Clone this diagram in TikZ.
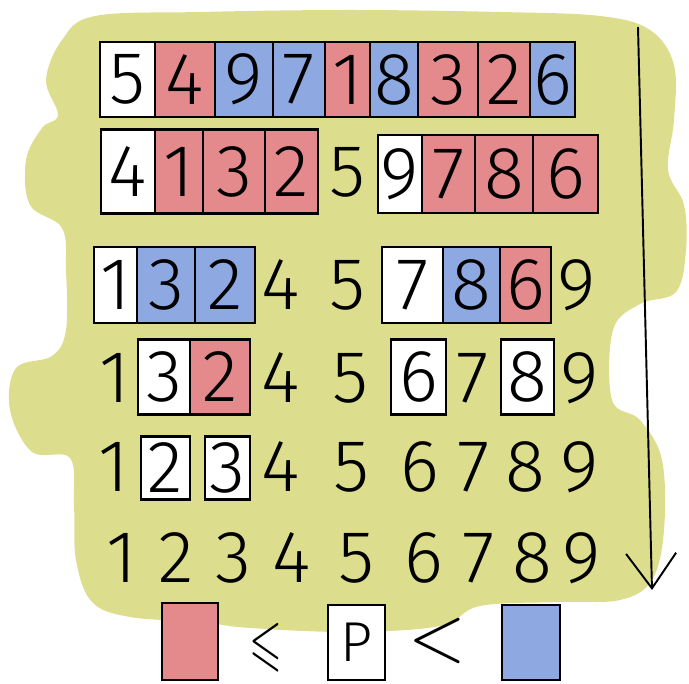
\RequirePackage{fix-cm}
\documentclass[tikz,border=0pt]{standalone}
\usepackage{amsmath, amssymb}
\usepackage{fontspec}
\setsansfont{Fira Sans Light}
\usepackage{tikz}
\usetikzlibrary{arrows.meta,positioning}

\definecolor{blobc}{RGB}{221,222,141}
\definecolor{lowc}{RGB}{229,138,140}
\definecolor{highc}{RGB}{142,169,226}

\begin{document}
\begin{tikzpicture}[
    x=0.2mm, y=-0.2mm,
    num/.style={font=\sffamily\fontsize{42}{42}\selectfont, inner sep=0pt},
    cell/.style={num, draw, line width=1.3pt, outer sep=0pt, minimum height=15mm},
    lo/.style={cell, fill=lowc},
    hi/.style={cell, fill=highc},
    piv/.style={cell, fill=white},
    line/.style={draw, line width=1.1pt, -{Straight Barb[length=7mm, width=10mm]}}
]
    \useasboundingbox (0,0) rectangle (689,684);

    % background blob
    \fill[blobc] plot[smooth cycle, tension=0.6] coordinates {
        (62,40) (95,16) (200,12) (350,10) (500,12) (600,16) (650,30) (674,65)
        (674,120) (668,170) (684,205) (686,250) (676,292) (640,304) (613,330)
        (612,400) (640,420) (662,460) (664,530) (652,580) (620,600) (560,602)
        (480,606) (440,626) (350,632) (250,628) (200,622) (130,617) (92,602)
        (76,560) (74,505) (70,458) (32,452) (10,410) (16,368) (52,356) (66,330)
        (66,270) (62,228) (30,205) (26,160) (42,128) (58,115) (46,80)};

    % unsorted row
    \node[piv, minimum width=11mm] (a5) at (127.5,79.5) {5};
    \node[lo, minimum width=12mm, right=0pt of a5] (a4) {4};
    \node[hi, minimum width=11.6mm, right=0pt of a4] (a9) {9};
    \node[hi, minimum width=10.4mm, right=0pt of a9] (a7) {7};
    \node[lo, minimum width=9mm, right=0pt of a7] (a1) {1};
    \node[hi, minimum width=9.6mm, right=0pt of a1] (a8) {8};
    \node[lo, minimum width=12mm, right=0pt of a8] (a3) {3};
    \node[lo, minimum width=10.4mm, right=0pt of a3] (a2) {2};
    \node[hi, minimum width=9mm, right=0pt of a2] (a6) {6};

    % after first partition
    \node[piv, minimum width=10.8mm, minimum height=16.8mm] (b4) at (128,171.5) {4};
    \node[lo, minimum width=9.6mm, minimum height=16.8mm, right=0pt of b4] (b1) {1};
    \node[lo, minimum width=12.4mm, minimum height=16.8mm, right=0pt of b1] (b3) {3};
    \node[lo, minimum width=10.6mm, minimum height=16.8mm, right=0pt of b3] (b2) {2};
    \node[num] (b5) at (347,172) {5};
    \node[piv, minimum width=8.8mm, minimum height=15.6mm] (b9) at (400,174) {9};
    \node[lo, minimum width=10.6mm, minimum height=15.6mm, right=0pt of b9] (b7) {7};
    \node[lo, minimum width=11.6mm, minimum height=15.6mm, right=0pt of b7] (b8) {8};
    \node[lo, minimum width=13mm, minimum height=15.6mm, right=0pt of b8] (b6) {6};

    \node[piv, minimum width=8.6mm, minimum height=15.2mm] (c1) at (115.5,285) {1};
    \node[hi, minimum width=11.6mm, minimum height=15.2mm, right=0pt of c1] (c3) {3};
    \node[hi, minimum width=12mm, minimum height=15.2mm, right=0pt of c3] (c2) {2};
    \node[num] (c4) at (281,285) {4};
    \node[num] (c5) at (347,285) {5};
    \node[piv, minimum width=12.2mm, minimum height=15.2mm] (c7) at (412.5,285) {7};
    \node[hi, minimum width=11.4mm, minimum height=15.2mm, right=0pt of c7] (c8) {8};
    \node[lo, minimum width=10.2mm, minimum height=15.2mm, right=0pt of c8] (c6) {6};
    \node[num] (c9) at (577,285) {9};

    \node[num] (d1) at (115,378) {1};
    \node[piv, minimum width=10.4mm] (d3) at (164,377) {3};
    \node[lo, minimum width=12mm, right=0pt of d3] (d2) {2};
    \node[num] (d4) at (281,378) {4};
    \node[num] (d5) at (350,378) {5};
    \node[piv, minimum width=11mm] (d6) at (418.5,377) {6};
    \node[num] (d7) at (473,378) {7};
    \node[piv, minimum width=10.6mm] (d8) at (527.5,377) {8};
    \node[num] (d9) at (580,378) {9};

    \node[num] (e1) at (114,467) {1};
    \node[piv, minimum width=9.8mm, minimum height=12.6mm] (e2) at (165.5,468) {2};
    \node[piv, minimum width=9mm, minimum height=12.6mm] (e3) at (227.5,468) {3};
    \node[num] (e4) at (281,467) {4};
    \node[num] (e5) at (351,467) {5};
    \node[num] (e6) at (420,467) {6};
    \node[num] (e7) at (474,467) {7};
    \node[num] (e8) at (525,467) {8};
    \node[num] (e9) at (580,467) {9};

    % sorted
    \node[num] (f1) at (122,558) {1};
    \node[num] (f2) at (176,558) {2};
    \node[num] (f3) at (233,558) {3};
    \node[num] (f4) at (292,558) {4};
    \node[num] (f5) at (356,558) {5};
    \node[num] (f6) at (424,558) {6};
    \node[num] (f7) at (479,558) {7};
    \node[num] (f8) at (532,558) {8};
    \node[num] (f9) at (582,558) {9};

    % legend
    \node[lo, minimum width=11.2mm, minimum height=15.4mm] (lobox) at (190,641.5) {};
    \node[inner sep=0pt, font=\fontsize{30}{30}\selectfont] (le) at (266,648) {\scalebox{0.8}[1.2]{$\leqslant$}};
    \node[piv, minimum width=11.4mm, font=\sffamily\fontsize{32}{32}\selectfont] (pbox) at (356.5,642.5) {P};
    \node[inner sep=0pt, font=\fontsize{36}{36}\selectfont] (lt) at (437,641) {\scalebox{1.2}[1.3]{$<$}};
    \node[hi, minimum width=11.6mm] (hibox) at (531,642.5) {};

    \coordinate (start) at (638,27);
    \coordinate (stop) at (652,590);
    \draw[line] (start) -- (stop);
\end{tikzpicture}
\end{document}
